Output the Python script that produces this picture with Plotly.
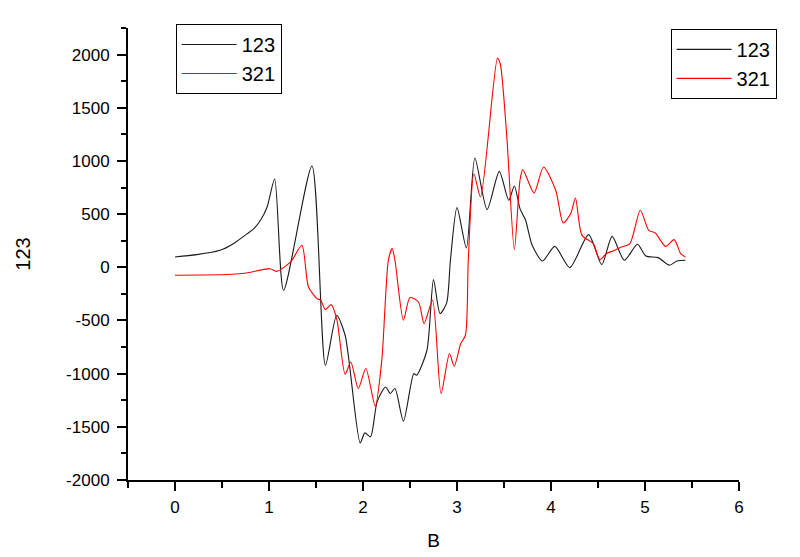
import plotly.graph_objects as go

# Series "123" (black)
x_123 = [0.0, 0.23, 0.48, 0.62, 0.77, 0.84, 0.91, 0.98, 1.06, 1.155, 1.457, 1.6, 1.72, 1.81,
         1.97, 2.02, 2.08, 2.15, 2.24, 2.29, 2.34, 2.43, 2.54, 2.57, 2.68, 2.75, 2.82, 2.89,
         2.93, 3.0, 3.10, 3.19, 3.32, 3.45, 3.55, 3.61, 3.67, 3.73, 3.80, 3.91, 4.04, 4.20,
         4.40, 4.54, 4.65, 4.78, 4.92, 5.01, 5.14, 5.26, 5.34, 5.43]
y_123 = [97, 119, 160, 222, 317, 364, 442, 567, 830, -216, 952, -921, -451, -639,
         -1651, -1557, -1594, -1265, -1125, -1186, -1140, -1447, -1000, -1015, -780, -116, -435, -335,
         66, 561, 182, 1028, 542, 902, 630, 764, 552, 442, 207, 59, 197, -3,
         307, 25, 291, 66, 216, 106, 91, 19, 59, 66]

# Series "321" (red)
x_321 = [0.0, 0.3, 0.6, 0.76, 1.01, 1.08, 1.23, 1.35, 1.42, 1.51, 1.55, 1.60, 1.66, 1.72, 1.81,
         1.87, 1.95, 2.03, 2.13, 2.20, 2.27, 2.31, 2.34, 2.43, 2.50, 2.59, 2.65, 2.74, 2.83,
         2.92, 2.97, 3.04, 3.09, 3.12, 3.18, 3.25, 3.43, 3.46, 3.53, 3.61, 3.67, 3.70, 3.82,
         3.92, 4.05, 4.13, 4.21, 4.26, 4.33, 4.45, 4.52, 4.59, 4.68, 4.75, 4.84, 4.95, 5.04,
         5.11, 5.22, 5.31, 5.38, 5.43]
y_321 = [-75, -73, -66, -53, -13, -38, 50, 207, -185, -294, -310, -398, -351, -482, -1006,
         -890, -1140, -952, -1306, -874, 67, 176, 66, -498, -285, -326, -530, -310, -1187,
         -811, -930, -717, -639, 66, 880, 661, 1967, 1914, 1225, 166, 818, 918, 698,
         943, 724, 416, 505, 651, 300, 223, 72, 129, 160, 191, 223, 536, 348,
         322, 197, 260, 129, 97]

series_names = ["123", "321"]
series_colors = ["#1a1a1a", "#ff0000"]
x_title = "B"
y_title = "123"

x_tickvals = [0, 1, 2, 3, 4, 5, 6]
x_ticktext = ["0", "1", "2", "3", "4", "5", "6"]
y_tickvals = [-2000, -1500, -1000, -500, 0, 500, 1000, 1500, 2000]
y_ticktext = ["-2000", "-1500", "-1000", "-500", "0", "500", "1000", "1500", "2000"]

fig = go.Figure()
for name, xs, ys, col in [(series_names[0], x_123, y_123, series_colors[0]),
                          (series_names[1], x_321, y_321, series_colors[1])]:
    fig.add_trace(go.Scatter(x=xs, y=ys, mode="lines", name=name,
                             line=dict(color=col, width=1.1, shape="spline", smoothing=0.7),
                             legend="legend"))
# second legend (entries only)
for name, col in zip(series_names, series_colors):
    fig.add_trace(go.Scatter(x=[None], y=[None], mode="lines", name=name,
                             line=dict(color=col, width=1.1), legend="legend2"))

axis_common = dict(
    showline=True, linecolor="black", linewidth=2, mirror=False,
    ticks="outside", ticklen=9, tickwidth=2, tickcolor="black",
    showgrid=False, zeroline=False, automargin=False,
    tickfont=dict(family="Liberation Sans, Arial", size=17, color="black"),
)

legend_common = dict(
    xanchor="left", yanchor="top",
    bgcolor="white", bordercolor="black", borderwidth=1,
    font=dict(size=20, family="Liberation Sans, Arial", color="black"),
    tracegroupgap=0, itemwidth=55,
)

# the page body adds an 8px offset, so the figure is 8px smaller than the window
fig.update_layout(
    width=792, height=549,
    margin=dict(l=120, r=61, t=20, b=77),
    paper_bgcolor="white", plot_bgcolor="white",
    font=dict(family="Liberation Sans, Arial", color="black"),
    xaxis=dict(range=[-0.5, 6], tickmode="array", tickvals=x_tickvals, ticktext=x_ticktext,
               minor=dict(dtick=0.5, tick0=0, ticks="outside", ticklen=6, tickwidth=2, tickcolor="black"),
               title=dict(text=x_title, font=dict(size=19), standoff=17),
               ticklabelstandoff=2,
               **axis_common),
    yaxis=dict(range=[-2000, 2250], tickmode="array", tickvals=y_tickvals, ticktext=y_ticktext,
               minor=dict(dtick=250, tick0=0, ticks="outside", ticklen=5, tickwidth=2, tickcolor="black"),
               title=dict(text=y_title, font=dict(size=20), standoff=30),
               ticklabelstandoff=4,
               **axis_common),
    legend=dict(x=0.078, y=1.009, **legend_common),
    legend2=dict(x=0.888, y=0.998, **legend_common),
    showlegend=True,
)

fig.write_html("out.html")
